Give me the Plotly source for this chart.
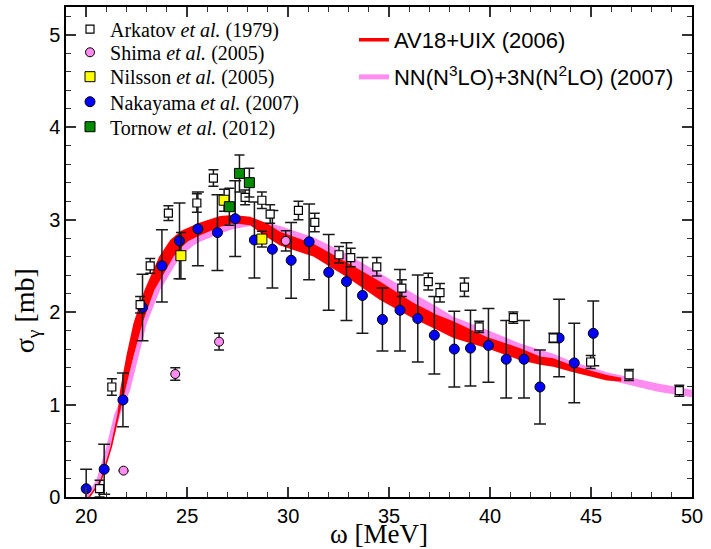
import plotly.graph_objects as go

# ---------------- data ----------------
arkatov_x = [20.66, 21.27, 22.67, 23.17, 24.07, 25.48, 26.30, 27.87, 28.70, 29.11, 30.51, 31.32,
             32.52, 33.10, 34.39, 35.63, 36.94, 37.52, 38.73, 39.46, 41.15, 43.13, 44.98, 46.88, 49.37]
arkatov_y = [0.09, 1.19, 2.08, 2.50, 3.07, 3.18, 3.45, 3.24, 3.21, 3.06, 3.10, 2.97,
             2.62, 2.59, 2.49, 2.26, 2.33, 2.21, 2.27, 1.84, 1.94, 1.72, 1.46, 1.32, 1.15]
arkatov_err = [0.09, 0.09, 0.09, 0.08, 0.08, 0.10, 0.09, 0.08, 0.09, 0.10, 0.10, 0.10,
               0.09, 0.10, 0.10, 0.09, 0.09, 0.10, 0.10, 0.06, 0.06, 0.05, 0.07, 0.06, 0.06]

shima_x = [21.85, 24.41, 26.58, 29.88]
shima_y = [0.285, 1.33, 1.68, 2.77]
shima_err = [0.0, 0.067, 0.09, 0.11]

nilsson_x = [24.69, 26.83, 28.70]
nilsson_y = [2.61, 3.21, 2.79]
nilsson_err = [0.25, 0.12, 0.085]

nakayama_x = [20.0, 20.89, 21.82, 22.79, 23.75, 24.62, 25.53, 26.50, 27.38, 28.33, 29.22, 30.15,
              31.04, 32.01, 32.89, 33.68, 34.67, 35.54, 36.42, 37.24, 38.23, 39.03, 39.92, 40.80,
              41.68, 42.47, 43.42, 44.17, 45.11]
nakayama_y = [0.09, 0.30, 1.05, 2.05, 2.50, 2.77, 2.90, 2.86, 3.01, 2.78, 2.68, 2.56,
              2.76, 2.43, 2.33, 2.18, 1.92, 2.02, 1.93, 1.75, 1.60, 1.61, 1.64, 1.49,
              1.49, 1.19, 1.72, 1.45, 1.77]
nakayama_err = [0.21, 0.27, 0.29, 0.36, 0.39, 0.41, 0.40, 0.41, 0.41, 0.41, 0.42, 0.41,
                0.41, 0.41, 0.42, 0.41, 0.34, 0.44, 0.47, 0.42, 0.41, 0.41, 0.40, 0.42,
                0.42, 0.40, 0.42, 0.43, 0.35]

tornow_x = [27.09, 27.59, 28.08]
tornow_y = [3.14, 3.50, 3.40]
tornow_err = [0.20, 0.20, 0.155]

# theory bands: upper/left edge and lower/right edge
av18_up_x = [20.10, 20.70, 21.20, 21.55, 21.68, 21.98, 22.34, 22.89, 23.61, 24.16, 24.70, 25.31, 25.64,
             26.63, 27.29, 28.12, 28.95, 29.60, 31.25, 32.90, 34.55, 36.20, 37.36, 38.18, 39.84,
             41.49, 42.48, 43.13, 44.12, 45.78, 46.50]
av18_up_y = [0.00, 0.18, 0.54, 0.90, 1.157, 1.517, 1.878, 2.238, 2.598, 2.78, 2.88, 2.94, 2.97,
             3.04, 3.05, 3.03, 2.96, 2.87, 2.74, 2.54, 2.33, 2.10, 1.97, 1.90, 1.73,
             1.61, 1.52, 1.50, 1.42, 1.32, 1.29]
av18_lo_x = [20.20, 20.78, 21.28, 21.65, 21.93, 22.34, 22.79, 23.38, 24.32, 24.70, 25.06, 25.31, 25.64,
             26.63, 27.29, 28.12, 28.95, 29.60, 31.25, 32.90, 34.55, 36.20, 37.36, 38.18, 39.84,
             41.49, 42.48, 43.13, 44.12, 45.78, 46.50]
av18_lo_y = [0.00, 0.18, 0.54, 0.90, 1.157, 1.517, 1.878, 2.238, 2.598, 2.70, 2.77, 2.80, 2.83,
             2.92, 2.96, 2.94, 2.81, 2.72, 2.60, 2.38, 2.13, 1.93, 1.81, 1.72, 1.61,
             1.48, 1.43, 1.41, 1.35, 1.26, 1.25]

n3lo_up_x = [19.95, 20.50, 20.99, 21.40, 21.93, 22.34, 22.79, 23.38, 24.24, 24.75, 25.31, 25.64, 26.63,
             27.29, 28.12, 28.95, 29.60, 31.25, 32.90, 34.55, 36.20, 37.36, 38.18, 39.84, 41.49,
             43.13, 44.12, 45.78, 48.25, 50.0]
n3lo_up_y = [0.00, 0.18, 0.54, 0.90, 1.157, 1.517, 1.878, 2.238, 2.598, 2.73, 2.81, 2.84, 2.92,
             2.96, 2.99, 2.97, 2.93, 2.81, 2.63, 2.42, 2.20, 2.06, 1.95, 1.81, 1.66,
             1.55, 1.46, 1.35, 1.23, 1.16]
n3lo_lo_x = [20.10, 20.73, 21.24, 21.70, 22.18, 22.59, 23.00, 23.66, 24.65, 25.31, 25.64, 26.63,
             27.29, 28.12, 28.95, 29.60, 31.25, 32.90, 34.55, 36.20, 37.36, 38.18, 39.84, 41.49,
             43.13, 44.12, 45.78, 48.25, 50.0]
n3lo_lo_y = [0.00, 0.18, 0.54, 0.90, 1.157, 1.517, 1.878, 2.238, 2.598, 2.72, 2.76, 2.85,
             2.90, 2.93, 2.88, 2.85, 2.72, 2.54, 2.32, 2.09, 1.95, 1.86, 1.72, 1.57,
             1.46, 1.38, 1.27, 1.14, 1.08]

# legend rows (paper coordinates of each legend entry's centre)
data_legend_y = [0.955, 0.9076, 0.8578, 0.8067, 0.7557]
theory_legend_y = [0.9327, 0.857]

RED = "#ff0000"
PINK = "#ff8cf0"
SERIF = "Liberation Serif"
SANS = "Liberation Sans"

fig = go.Figure()

# bands
fig.add_trace(go.Scatter(x=n3lo_up_x + n3lo_lo_x[::-1], y=n3lo_up_y + n3lo_lo_y[::-1],
                         mode="lines", fill="toself", fillcolor=PINK, line=dict(width=0, color=PINK),
                         showlegend=False, hoverinfo="skip"))
fig.add_trace(go.Scatter(x=av18_up_x + av18_lo_x[::-1], y=av18_up_y + av18_lo_y[::-1],
                         mode="lines", fill="toself", fillcolor=RED, line=dict(width=0, color=RED),
                         showlegend=False, hoverinfo="skip"))

EB = dict(type="data", color="#1a1a1a", thickness=1.5)

fig.add_trace(go.Scatter(x=nakayama_x, y=nakayama_y, mode="markers", name="Nakayama <i>et al.</i> (2007)",
                         error_y=dict(array=nakayama_err, width=6, **EB),
                         marker=dict(symbol="circle", size=10, color="#0000ff", line=dict(color="black", width=1)),
                         legend="legend4"))
fig.add_trace(go.Scatter(x=shima_x, y=shima_y, mode="markers", name="Shima <i>et al.</i> (2005)",
                         error_y=dict(array=shima_err, width=5, **EB),
                         marker=dict(symbol="circle", size=9, color=PINK, line=dict(color="black", width=1)),
                         legend="legend2"))
fig.add_trace(go.Scatter(x=arkatov_x, y=arkatov_y, mode="markers", name="Arkatov <i>et al.</i> (1979)",
                         error_y=dict(array=arkatov_err, width=5, **EB),
                         marker=dict(symbol="square", size=8, color="white", line=dict(color="black", width=1.2)),
                         legend="legend"))
fig.add_trace(go.Scatter(x=nilsson_x, y=nilsson_y, mode="markers", name="Nilsson <i>et al.</i> (2005)",
                         error_y=dict(array=nilsson_err, width=5, **EB),
                         marker=dict(symbol="square", size=10, color="#ffff00", line=dict(color="black", width=1)),
                         legend="legend3"))
fig.add_trace(go.Scatter(x=tornow_x, y=tornow_y, mode="markers", name="Tornow <i>et al.</i> (2012)",
                         error_y=dict(array=tornow_err, width=5, **EB),
                         marker=dict(symbol="square", size=10, color="#008c00", line=dict(color="black", width=1)),
                         legend="legend5"))

# legend entries for theory
fig.add_trace(go.Scatter(x=[None], y=[None], mode="lines", line=dict(color=RED, width=3.5),
                         name="AV18+UIX (2006)", legend="legend6"))
fig.add_trace(go.Scatter(x=[None], y=[None], mode="lines", line=dict(color=PINK, width=5),
                         name="NN(N<sup>3</sup>LO)+3N(N<sup>2</sup>LO) (2007)", legend="legend7"))

axis_common = dict(showline=True, linewidth=1.5, linecolor="black", mirror="ticks",
                   ticks="inside", ticklen=10, tickwidth=1.5, tickcolor="#333333",
                   showgrid=False, zeroline=False, automargin=False,
                   tickfont=dict(family=SANS, size=20, color="black"))


def data_legend(yc):
    return dict(x=0.0064, y=yc, xanchor="left", yanchor="middle",
                font=dict(family=SERIF, size=20, color="black"), bgcolor="rgba(0,0,0,0)")


def theory_legend(yc):
    return dict(x=0.46, y=yc, xanchor="left", yanchor="middle",
                font=dict(family=SANS, size=22, color="black"), bgcolor="rgba(0,0,0,0)")


fig.update_layout(
    width=711, height=549,
    margin=dict(l=66, r=19, t=7, b=52),
    plot_bgcolor="white", paper_bgcolor="white",
    xaxis=dict(range=[19, 50], dtick=5, tick0=20,
               minor=dict(dtick=1, ticks="inside", ticklen=5, tickwidth=1.2, tickcolor="#333333"),
               title=dict(text="ω [MeV]", font=dict(family=SERIF, size=27, color="black"), standoff=5),
               **axis_common),
    yaxis=dict(range=[0, 5.3], dtick=1, tick0=0,
               minor=dict(dtick=0.2, ticks="inside", ticklen=5, tickwidth=1.2, tickcolor="#333333"),
               **axis_common),
    annotations=[dict(text="σ<sub>γ</sub> [mb]", textangle=-90, xref="paper", yref="paper",
                      x=-0.063, y=0.38, xanchor="center", yanchor="middle", showarrow=False,
                      font=dict(family=SERIF, size=28, color="black"))],
    legend=data_legend(data_legend_y[0]),
    legend2=data_legend(data_legend_y[1]),
    legend3=data_legend(data_legend_y[2]),
    legend4=data_legend(data_legend_y[3]),
    legend5=data_legend(data_legend_y[4]),
    legend6=theory_legend(theory_legend_y[0]),
    legend7=theory_legend(theory_legend_y[1]),
)

fig.write_html("out.html", config={"displayModeBar": False},
               post_script="document.body.style.margin='0';")
